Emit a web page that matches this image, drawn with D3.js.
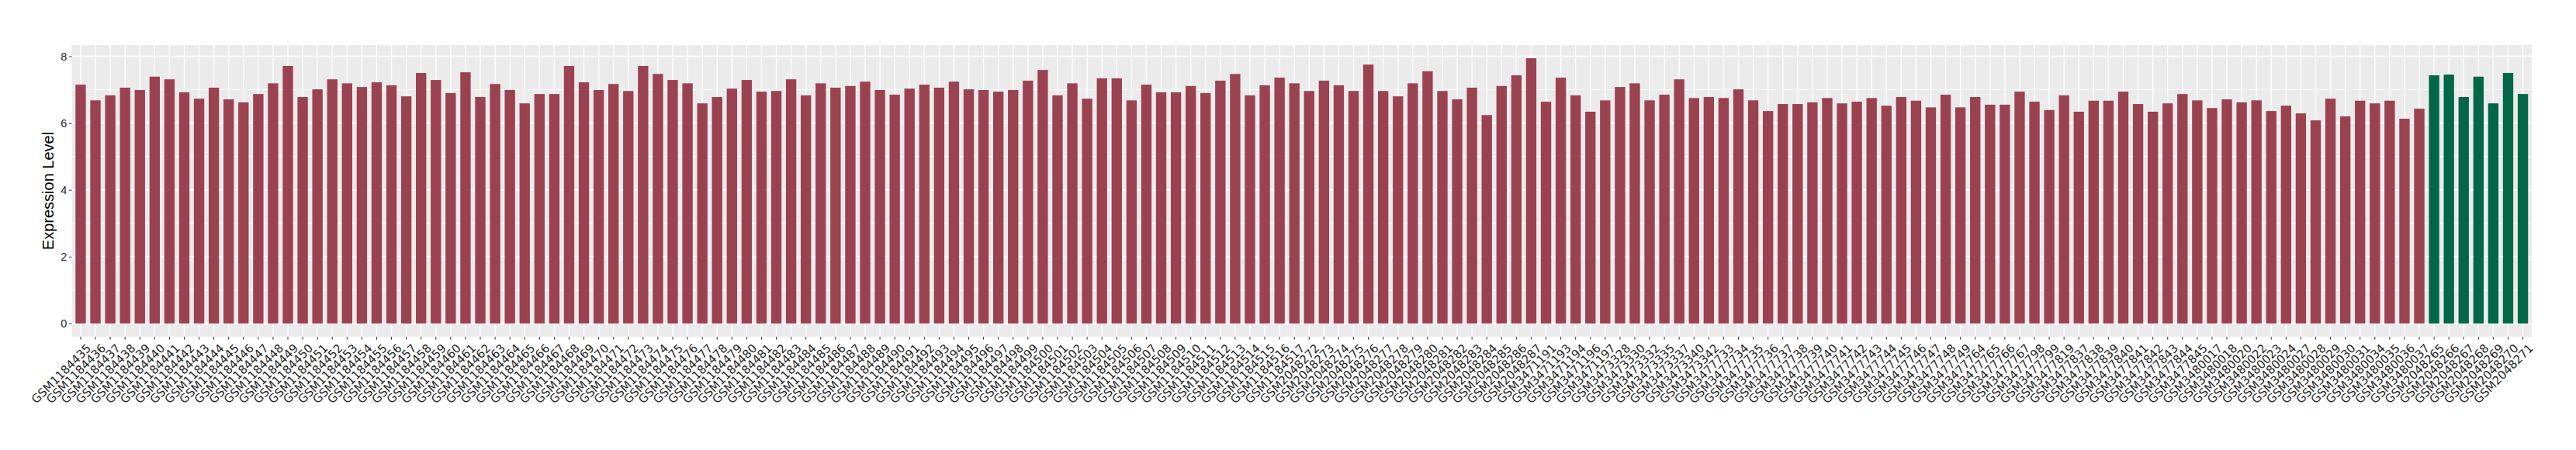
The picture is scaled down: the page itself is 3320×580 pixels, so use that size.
<!DOCTYPE html>
<html lang="en">

<head>
  <meta charset="UTF-8">
  <title>Expression Level</title>
  <style>
    body { margin: 0; background: #fff; }
  </style>
</head>

<body>

  <script src="https://cdn.jsdelivr.net/npm/d3@7/dist/d3.min.js"></script>
  <script>
    // samples in the first (red) group
    var samplesA = [
      "GSM1184435", "GSM1184436", "GSM1184437", "GSM1184438", "GSM1184439", "GSM1184440", "GSM1184441", "GSM1184442",
      "GSM1184443", "GSM1184444", "GSM1184445", "GSM1184446", "GSM1184447", "GSM1184448", "GSM1184449", "GSM1184450",
      "GSM1184451", "GSM1184452", "GSM1184453", "GSM1184454", "GSM1184455", "GSM1184456", "GSM1184457", "GSM1184458",
      "GSM1184459", "GSM1184460", "GSM1184461", "GSM1184462", "GSM1184463", "GSM1184464", "GSM1184465", "GSM1184466",
      "GSM1184467", "GSM1184468", "GSM1184469", "GSM1184470", "GSM1184471", "GSM1184472", "GSM1184473", "GSM1184474",
      "GSM1184475", "GSM1184476", "GSM1184477", "GSM1184478", "GSM1184479", "GSM1184480", "GSM1184481", "GSM1184482",
      "GSM1184483", "GSM1184484", "GSM1184485", "GSM1184486", "GSM1184487", "GSM1184488", "GSM1184489", "GSM1184490",
      "GSM1184491", "GSM1184492", "GSM1184493", "GSM1184494", "GSM1184495", "GSM1184496", "GSM1184497", "GSM1184498",
      "GSM1184499", "GSM1184500", "GSM1184501", "GSM1184502", "GSM1184503", "GSM1184504", "GSM1184505", "GSM1184506",
      "GSM1184507", "GSM1184508", "GSM1184509", "GSM1184510", "GSM1184511", "GSM1184512", "GSM1184513", "GSM1184514",
      "GSM1184515", "GSM1184516", "GSM1184517",
      "GSM2048272", "GSM2048273", "GSM2048274", "GSM2048275", "GSM2048276", "GSM2048277", "GSM2048278", "GSM2048279",
      "GSM2048280", "GSM2048281", "GSM2048282", "GSM2048283", "GSM2048284", "GSM2048285", "GSM2048286", "GSM2048287",
      "GSM3471191", "GSM3471193", "GSM3471194", "GSM3471196", "GSM3471197",
      "GSM3473328", "GSM3473330", "GSM3473332", "GSM3473335", "GSM3473337", "GSM3473340", "GSM3473342",
      "GSM3477733", "GSM3477734", "GSM3477735", "GSM3477736", "GSM3477737", "GSM3477738", "GSM3477739", "GSM3477740",
      "GSM3477741", "GSM3477742", "GSM3477743", "GSM3477744", "GSM3477745", "GSM3477746", "GSM3477747", "GSM3477748",
      "GSM3477749", "GSM3477764", "GSM3477765", "GSM3477766", "GSM3477767", "GSM3477798", "GSM3477799", "GSM3477819",
      "GSM3477837", "GSM3477838", "GSM3477839", "GSM3477840", "GSM3477841", "GSM3477842", "GSM3477843", "GSM3477844",
      "GSM3477845",
      "GSM3480017", "GSM3480018", "GSM3480020", "GSM3480022", "GSM3480023", "GSM3480024", "GSM3480027", "GSM3480028",
      "GSM3480029", "GSM3480030", "GSM3480031", "GSM3480034", "GSM3480035", "GSM3480036", "GSM3480037"
    ];
    var valuesA = [
      7.15, 6.68, 6.83, 7.06, 6.99, 7.39, 7.31, 6.92, 6.73, 7.06, 6.71, 6.62, 6.87, 7.19, 7.71, 6.78,
      7.01, 7.31, 7.19, 7.08, 7.22, 7.13, 6.80, 7.50, 7.29, 6.90, 7.52, 6.78, 7.17, 6.99, 6.59, 6.87,
      6.87, 7.71, 7.22, 6.99, 7.17, 6.96, 7.71, 7.47, 7.29, 7.19, 6.59, 6.78, 7.03, 7.29, 6.94, 6.96,
      7.31, 6.83, 7.19, 7.06, 7.11, 7.24, 6.99, 6.85, 7.03, 7.15, 7.06, 7.24, 7.01, 6.99, 6.94, 6.99,
      7.27, 7.59, 6.83, 7.19, 6.73, 7.34, 7.34, 6.68, 7.15, 6.92, 6.92, 7.11, 6.90, 7.27, 7.47, 6.83,
      7.13, 7.36, 7.19,
      6.96, 7.27, 7.13, 6.96, 7.75, 6.96, 6.80, 7.19, 7.55, 6.96, 6.71, 7.06, 6.24, 7.11, 7.43, 7.94,
      6.64, 7.36, 6.83, 6.34, 6.68,
      7.08, 7.19, 6.68, 6.85, 7.31, 6.75, 6.78,
      6.75, 7.01, 6.68, 6.36, 6.57, 6.57, 6.62, 6.75, 6.59, 6.64, 6.75, 6.52, 6.78, 6.67, 6.47, 6.85,
      6.47, 6.78, 6.55, 6.55, 6.94, 6.64, 6.39, 6.83, 6.34, 6.67, 6.67, 6.94, 6.57, 6.34, 6.59, 6.87,
      6.68,
      6.45, 6.71, 6.62, 6.68, 6.36, 6.52, 6.29, 6.08, 6.73, 6.20, 6.67, 6.59, 6.67, 6.13, 6.43
    ];

    // samples in the second (green) group
    var samplesB = ["GSM2048265", "GSM2048266", "GSM2048267", "GSM2048268", "GSM2048269", "GSM2048270", "GSM2048271"];
    var valuesB = [7.43, 7.45, 6.78, 7.39, 6.59, 7.50, 6.87];

    var yTicks = [0, 2, 4, 6, 8];
    var yMinor = [1, 3, 5, 7];
    var colorA = "#9b4251";
    var colorB = "#026746";

    var width = 3320, height = 580;
    // panel edges (note: "top" is reserved on window, so use other names)
    var panelL = 92.5, panelR = 3263, panelT = 58, panelB = 434;

    var data = samplesA.map(function (s, i) { return { name: s, value: valuesA[i], color: colorA }; })
      .concat(samplesB.map(function (s, i) { return { name: s, value: valuesB[i], color: colorB }; }));

    var svg = d3.select("body").append("svg")
      .attr("width", width)
      .attr("height", height);

    var x = d3.scaleBand()
      .domain(data.map(function (d) { return d.name; }))
      .range([panelL, panelR])
      .paddingInner(0.3)
      .paddingOuter(0.25);

    // ggplot style 5% expansion
    var yMax = d3.max(data, function (d) { return d.value; });
    var y = d3.scaleLinear()
      .domain([-0.05 * yMax, yMax * 1.05])
      .range([panelB, panelT]);

    // panel
    svg.append("rect")
      .attr("x", panelL).attr("y", panelT)
      .attr("width", panelR - panelL).attr("height", panelB - panelT)
      .attr("fill", "#ebebeb");

    svg.append("g").selectAll("line").data(yMinor).enter().append("line")
      .attr("x1", panelL).attr("x2", panelR)
      .attr("y1", function (d) { return y(d); }).attr("y2", function (d) { return y(d); })
      .attr("stroke", "#fff").attr("stroke-width", 0.7);

    svg.append("g").selectAll("line").data(yTicks).enter().append("line")
      .attr("x1", panelL).attr("x2", panelR)
      .attr("y1", function (d) { return y(d); }).attr("y2", function (d) { return y(d); })
      .attr("stroke", "#fff").attr("stroke-width", 1.4);

    svg.append("g").selectAll("line").data(data).enter().append("line")
      .attr("x1", function (d) { return x(d.name) + x.bandwidth() / 2; })
      .attr("x2", function (d) { return x(d.name) + x.bandwidth() / 2; })
      .attr("y1", panelT).attr("y2", panelB)
      .attr("stroke", "#fff").attr("stroke-width", 1.4);

    // bars
    svg.append("g").selectAll("rect").data(data).enter().append("rect")
      .attr("x", function (d) { return x(d.name); })
      .attr("width", x.bandwidth())
      .attr("y", function (d) { return y(d.value); })
      .attr("height", function (d) { return y(0) - y(d.value); })
      .attr("fill", function (d) { return d.color; });

    // y axis
    var yAxis = svg.append("g")
      .attr("transform", "translate(" + panelL + ",0)")
      .call(d3.axisLeft(y).tickValues(yTicks).tickSize(3.7).tickPadding(2.5));
    yAxis.select(".domain").remove();
    yAxis.selectAll("line").attr("stroke", "#333");
    yAxis.selectAll("text")
      .attr("fill", "#262626")
      .style("font-family", "'Liberation Sans', Arial, sans-serif")
      .style("font-size", "14.5px");

    // x axis
    var xAxis = svg.append("g")
      .attr("transform", "translate(0," + panelB + ")")
      .call(d3.axisBottom(x).tickSize(3.7).tickPadding(0));
    xAxis.select(".domain").remove();
    xAxis.selectAll("line").attr("stroke", "#333");
    xAxis.selectAll("text")
      .attr("fill", "#262626")
      .attr("text-anchor", "end")
      .attr("y", 0).attr("dy", "0.73em")
      .attr("transform", "translate(6.5,8) rotate(-45)")
      .style("font-family", "'DejaVu Sans', sans-serif")
      .style("font-size", "15px");

    // y title
    svg.append("text")
      .attr("transform", "translate(68.5," + ((panelT + panelB) / 2) + ") rotate(-90)")
      .attr("text-anchor", "middle")
      .attr("fill", "#000")
      .style("font-family", "'Liberation Sans', Arial, sans-serif")
      .style("font-size", "20px")
      .text("Expression Level");
  </script>
</body>

</html>
